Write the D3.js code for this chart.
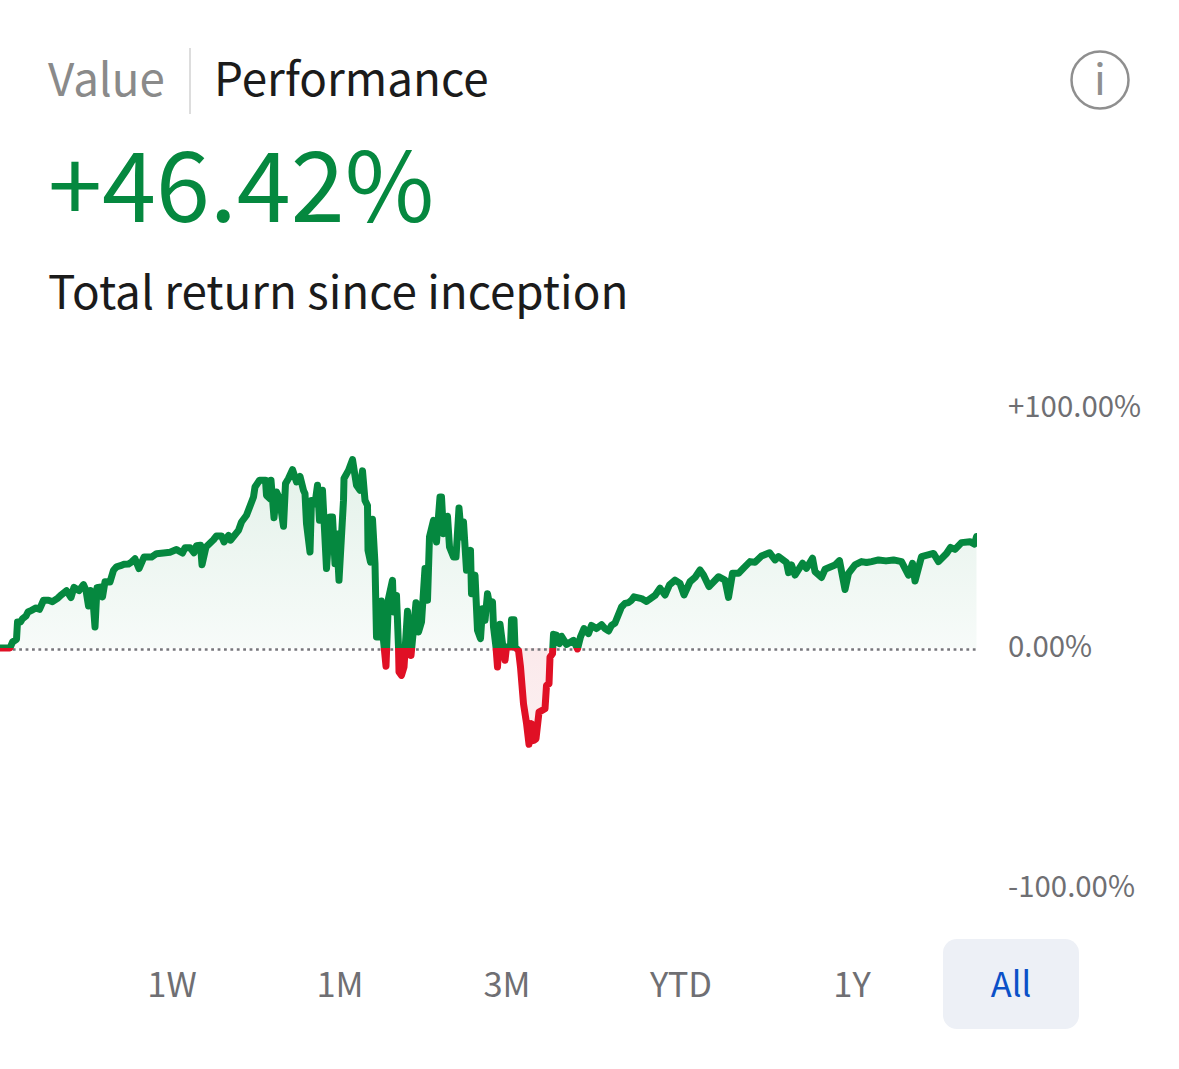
<!doctype html>
<html lang="en">
<head>
  <meta name="viewport" content="width=device-width, initial-scale=1.0">
  <style>
    html, body { margin: 0; padding: 0; background: #fff; }
    svg { display: block; }
    text { font-family: "Noto Sans CJK JP", "Noto Sans", sans-serif; }
    .axis path, .axis line { display: none; }
  </style>
</head>
<body>
  <script src="https://d3js.org/d3.v7.min.js"></script>
  <div id="chart"></div>
  <script>
  // days since inception and total return in percent
  var days = [0,20,25,33,35,41,45,52,56,63,72,79,87,97,105,115,123,133,142,148,158,167,172,177,181,185,190,194,200,205,210,220,227,233,241,248,257,263,270,278,288,303,313,327,340,353,365,370,380,388,393,401,404,412,427,433,443,448,457,461,477,483,493,507,510,519,531,533,540,542,548,553,559,567,571,577,585,593,600,607,610,613,620,623,630,635,639,645,653,660,665,670,673,678,687,688,697,705,713,720,725,730,735,736,741,745,750,753,759,763,767,772,777,785,787,793,797,798,803,808,815,822,832,837,843,850,855,859,867,873,880,883,887,895,899,907,912,918,923,927,933,941,943,950,955,961,965,970,975,980,985,987,992,995,1000,1005,1010,1013,1021,1023,1028,1030,1037,1041,1047,1053,1058,1063,1068,1072,1078,1090,1093,1098,1100,1105,1107,1113,1119,1123,1133,1147,1155,1161,1168,1177,1183,1193,1203,1210,1217,1223,1230,1243,1250,1257,1263,1268,1283,1293,1310,1320,1330,1339,1350,1360,1368,1380,1390,1400,1407,1418,1437,1450,1457,1465,1477,1488,1500,1510,1523,1539,1550,1557,1573,1577,1583,1590,1605,1613,1625,1630,1643,1650,1670,1679,1690,1697,1710,1723,1733,1743,1757,1772,1787,1803,1817,1825,1830,1843,1867,1877,1893,1901,1910,1923,1940,1949,1953];
  var returns = [0,0,2.5,3.6,10.8,10.8,12.2,13.3,15,15.7,16.7,16.1,19.9,19.9,19.3,20.7,22.2,23.9,21,25.3,23.9,26.4,24,17.5,24,22.6,8.75,25.1,25.4,21.3,27.6,27.5,32.4,33.8,34.3,34.9,35,35.8,37.2,33.1,37.9,37.9,39.3,39.6,39.9,41,39.6,41.8,41.8,39.7,42.6,42.8,34.7,42.1,45.1,46.7,46.7,44.2,46.9,44.9,49,52.5,55.3,62.9,67.1,69.9,69.9,63.6,62.2,69.9,54.3,65,62.2,50.7,68.5,70.6,74.3,69.2,71.5,65.7,64.3,51.8,40,61.5,60.1,67.8,53.2,65.7,33.1,54.6,54.6,35.1,47.6,28.2,61.5,70.6,74,78.5,67.8,65.7,73.8,61.5,59.4,40.7,35.8,53.6,35.1,4.6,4.6,19.6,3.2,-7.6,20.6,28.2,15,21.9,0.4,-10,-11.4,-7.9,15.3,-3.1,18.9,6.7,10.8,33.1,19.9,46.3,53.2,44.2,62.9,62.9,47.6,54.9,42.1,37.9,37.9,58.3,46.3,52.5,32.4,40.7,22.6,30.3,7.4,3.9,16.4,11.5,22.6,17.1,19.2,8.8,0.4,-7.9,9.9,1.8,-5.1,0.4,0.4,11.8,11.8,0.4,-1,-7.9,-23.2,-31.3,-40.1,-31.5,-38.5,-37.8,-26.7,-25.3,-15.6,-14.9,-3.8,-2.4,5.7,5.4,1.8,4.9,1.5,3.2,-0.4,4.6,8.1,6,9.4,8.1,9.7,8.1,7.1,9.4,10.4,17.1,18.6,18.9,19.9,21.3,20.6,19.4,21.9,24.9,22.1,26.3,28.3,26.9,22.1,27.6,29.4,32.5,30.4,25.6,29.7,28.3,21.1,31.1,31.1,33.5,36,35.7,38.3,39.7,36.7,38.1,35.6,31.4,34.6,30.4,35.3,33.2,37.4,31.8,29.4,32.8,34.6,36.4,24.4,31.1,34.6,36,35.6,36,36.7,36.3,36.7,36,30.4,35.3,27.9,38.1,39.4,36,39.4,41.9,41.1,43.9,44.3,43.3,46.42];

  var yTicks = [100, 0, -100];
  var yTickLabels = ["+100.00%", "0.00%", "-100.00%"];
  var ranges = ["1W", "1M", "3M", "YTD", "1Y", "All"];
  var rangeCenters = [172, 340, 507, 681, 852, 1011];

  var green = "#05883f", red = "#e01025";

  var svg = d3.select("#chart").append("svg")
      .attr("width", 1179)
      .attr("height", 1069);

  // header
  svg.append("text").attr("x", 48).attr("y", 96).attr("font-size", 45.7).attr("fill", "#8a8a8a").text("Value");
  svg.append("line").attr("x1", 190).attr("x2", 190).attr("y1", 48).attr("y2", 114).attr("stroke", "#d2d2d2").attr("stroke-width", 1.5);
  svg.append("text").attr("x", 214).attr("y", 96).attr("font-size", 45.8).attr("fill", "#1b1b1b").text("Performance");
  svg.append("text").attr("x", 48).attr("y", 222).attr("font-size", 97.2).attr("fill", green).text("+46.42%");
  svg.append("text").attr("x", 48).attr("y", 309).attr("font-size", 45.8).attr("fill", "#1b1b1b").text("Total return since inception");

  // info icon
  svg.append("circle").attr("cx", 1100).attr("cy", 80).attr("r", 28.5).attr("fill", "none").attr("stroke", "#8f8f8f").attr("stroke-width", 2.5);
  svg.append("text").attr("x", 1100).attr("y", 95).attr("text-anchor", "middle").attr("font-size", 43).attr("fill", "#8f8f8f").text("i");

  // scales
  var x = d3.scaleLinear().domain([0, 1954]).range([0, 977]);
  var y = d3.scaleLinear().domain([-100, 100]).range([888, 408]);

  var points = days.map(function (d, i) { return [d, returns[i]]; });

  var defs = svg.append("defs");
  defs.append("clipPath").attr("id", "above").append("rect")
      .attr("x", 0).attr("y", 0).attr("width", x(1954)).attr("height", y(0));
  defs.append("clipPath").attr("id", "below").append("rect")
      .attr("x", 0).attr("y", y(0)).attr("width", x(1954)).attr("height", 1069 - y(0));

  var gGreen = defs.append("linearGradient").attr("id", "fillGreen")
      .attr("gradientUnits", "userSpaceOnUse").attr("x1", 0).attr("x2", 0).attr("y1", y(80)).attr("y2", y(0));
  gGreen.append("stop").attr("offset", 0).attr("stop-color", "#e3f1e9");
  gGreen.append("stop").attr("offset", 1).attr("stop-color", "#f7fbf9");
  var gRed = defs.append("linearGradient").attr("id", "fillRed")
      .attr("gradientUnits", "userSpaceOnUse").attr("x1", 0).attr("x2", 0).attr("y1", y(0)).attr("y2", y(-40));
  gRed.append("stop").attr("offset", 0).attr("stop-color", "#fbe9eb");
  gRed.append("stop").attr("offset", 1).attr("stop-color", "#fcf0f1");

  var area = d3.area()
      .x(function (d) { return x(d[0]); })
      .y0(y(0))
      .y1(function (d) { return y(d[1]); });
  var line = d3.line()
      .x(function (d) { return x(d[0]); })
      .y(function (d) { return y(d[1]); });

  svg.append("path").datum(points).attr("d", area).attr("fill", "url(#fillGreen)").attr("clip-path", "url(#above)");
  svg.append("path").datum(points).attr("d", area).attr("fill", "url(#fillRed)").attr("clip-path", "url(#below)");

  // zero line
  svg.append("line")
      .attr("x1", x(0)).attr("x2", x(1954))
      .attr("y1", y(0) + 1.5).attr("y2", y(0) + 1.5)
      .attr("stroke", "#77777c").attr("stroke-width", 2.6).attr("stroke-dasharray", "2.8 3.6");

  svg.append("path").datum(points).attr("d", line).attr("fill", "none").attr("stroke", green)
      .attr("stroke-width", 7).attr("stroke-linejoin", "round").attr("stroke-linecap", "round").attr("clip-path", "url(#above)");
  svg.append("path").datum(points).attr("d", line).attr("fill", "none").attr("stroke", red)
      .attr("stroke-width", 7).attr("stroke-linejoin", "round").attr("stroke-linecap", "round").attr("clip-path", "url(#below)");

  // y axis
  var yAxis = d3.axisRight(y)
      .tickValues(yTicks)
      .tickSize(0)
      .tickPadding(0)
      .tickFormat(function (d, i) { return yTickLabels[i]; });
  svg.append("g").attr("class", "axis")
      .attr("transform", "translate(1008,-1)")
      .call(yAxis)
      .call(function (g) {
        g.selectAll("text").attr("font-size", 29.4).attr("fill", "#6f6f73")
         .style("font-family", '"Noto Sans CJK JP", "Noto Sans", sans-serif');
      });

  // range buttons
  svg.append("rect").attr("x", 943).attr("y", 939).attr("width", 136).attr("height", 90).attr("rx", 14).attr("fill", "#edf0f6");
  svg.selectAll(".range")
      .data(ranges)
      .enter()
      .append("text")
      .attr("class", "range")
      .attr("x", function (d, i) { return rangeCenters[i]; })
      .attr("y", 996.5)
      .attr("text-anchor", "middle")
      .attr("font-size", 34.5)
      .attr("fill", function (d) { return d === "All" ? "#0b50c8" : "#6f6f73"; })
      .text(function (d) { return d; });
  </script>
</body>
</html>
